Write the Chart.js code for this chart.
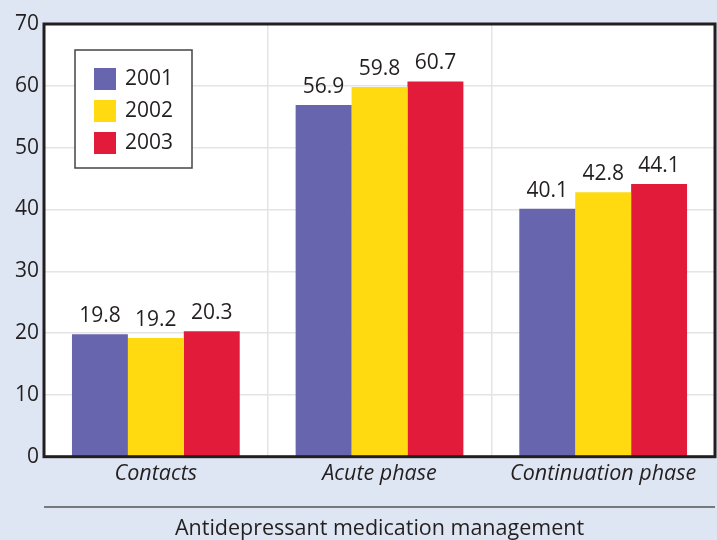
<!DOCTYPE html>
<html>
<head>
<meta charset="utf-8">
<script src="https://cdn.jsdelivr.net/npm/chart.js@4/dist/chart.umd.min.js"></script>
<style>
  html, body { margin: 0; padding: 0; background: #dfe6f3; }
  #wrap { width: 717px; height: 540px; }
</style>
</head>
<body>
<div id="wrap"><canvas id="barChart" width="717" height="540"></canvas></div>
<script>
// chart data
var categories = ['Contacts', 'Acute phase', 'Continuation phase'];
var years      = ['2001', '2002', '2003'];
var values2001 = [19.8, 56.9, 40.1];
var values2002 = [19.2, 59.8, 42.8];
var values2003 = [20.3, 60.7, 44.1];
var yTicks     = [0, 10, 20, 30, 40, 50, 60, 70];
var xTitle     = 'Antidepressant medication management';

var colors = ['#6765ad', '#ffda10', '#e31b3b'];
var fontFamily = '"Open Sans", "Noto Sans", sans-serif';
var textColor = '#231f20';

// frame around plot + line above bottom title
var framePlugin = {
	id: 'frame',
	afterDraw: function(chart){
		var ctx = chart.ctx, a = chart.chartArea;
		ctx.save();
		ctx.strokeStyle = '#231f20';
		ctx.lineWidth = 3;
		ctx.strokeRect(a.left, a.top, a.right - a.left, a.bottom - a.top);
		ctx.lineWidth = 1.5;
		ctx.strokeStyle = '#555';
		ctx.beginPath();
		ctx.moveTo(a.left, 507);
		ctx.lineTo(a.right, 507);
		ctx.stroke();
		ctx.restore();
	}
};

// numbers on top of each bar
var valueLabels = {
	id: 'valueLabels',
	afterDatasetsDraw: function(chart){
		var ctx = chart.ctx;
		ctx.save();
		ctx.font = '21px ' + fontFamily;
		ctx.fillStyle = textColor;
		ctx.textAlign = 'center';
		ctx.textBaseline = 'alphabetic';
		chart.data.datasets.forEach(function(ds, i){
			chart.getDatasetMeta(i).data.forEach(function(bar, j){
				ctx.fillText(ds.data[j].toFixed(1), bar.x, bar.y - 12);
			});
		});
		ctx.restore();
	}
};

// legend box inside the plot
var boxLegend = {
	id: 'boxLegend',
	afterDraw: function(chart){
		var ctx = chart.ctx;
		var x0 = 75, y0 = 50, w = 117, h = 118;
		ctx.save();
		ctx.fillStyle = '#fff';
		ctx.fillRect(x0, y0, w, h);
		ctx.strokeStyle = '#444';
		ctx.lineWidth = 1.5;
		ctx.strokeRect(x0, y0, w, h);
		ctx.font = '21px ' + fontFamily;
		ctx.textBaseline = 'middle';
		chart.data.datasets.forEach(function(ds, i){
			var y = y0 + 18 + i * 32;
			ctx.fillStyle = ds.backgroundColor;
			ctx.fillRect(x0 + 19, y, 22, 22);
			ctx.fillStyle = textColor;
			ctx.fillText(ds.label, x0 + 50, y + 11);
		});
		ctx.restore();
	}
};

var plotBackground = {
	id: 'plotBackground',
	beforeDraw: function(chart){
		var ctx = chart.ctx, a = chart.chartArea;
		ctx.save();
		ctx.fillStyle = '#dfe6f3';
		ctx.fillRect(0, 0, chart.width, chart.height);
		ctx.fillStyle = '#fff';
		ctx.fillRect(a.left, a.top, a.right - a.left, a.bottom - a.top);
		ctx.restore();
	}
};

var ctx = document.getElementById('barChart').getContext('2d');
var barChart = new Chart(ctx, {
	type: 'bar',
	data: {
		labels: categories,
		datasets: [
			{ label: years[0], data: values2001, backgroundColor: colors[0] },
			{ label: years[1], data: values2002, backgroundColor: colors[1] },
			{ label: years[2], data: values2003, backgroundColor: colors[2] }
		]
	},
	options: {
		responsive: false,
		animation: false,
		devicePixelRatio: 1,
		layout: { padding: { top: 24, right: 2, left: 10, bottom: 0 } },
		datasets: { bar: { categoryPercentage: 0.75, barPercentage: 1.0 } },
		plugins: {
			legend: { display: false },
			tooltip: { enabled: false }
		},
		scales: {
			x: {
				grid: { color: '#e4e4e4', lineWidth: 1.5, drawTicks: false, offset: true },
				border: { display: false },
				ticks: {
					color: textColor,
					padding: 4,
					font: { family: fontFamily, size: 21.5, style: 'italic' }
				},
				title: {
					display: true,
					text: xTitle,
					color: textColor,
					padding: { top: 28, bottom: 0 },
					font: { family: fontFamily, size: 21.5, lineHeight: 1.0 }
				}
			},
			y: {
				min: 0,
				max: 70,
				afterBuildTicks: function(axis){
					axis.ticks = yTicks.map(function(v){ return { value: v }; });
				},
				grid: { color: '#e4e4e4', lineWidth: 1.5, drawTicks: false },
				border: { display: false },
				ticks: {
					color: textColor,
					padding: 5,
					font: { family: fontFamily, size: 21 }
				}
			}
		}
	},
	plugins: [plotBackground, valueLabels, framePlugin, boxLegend]
});
</script>
</body>
</html>
